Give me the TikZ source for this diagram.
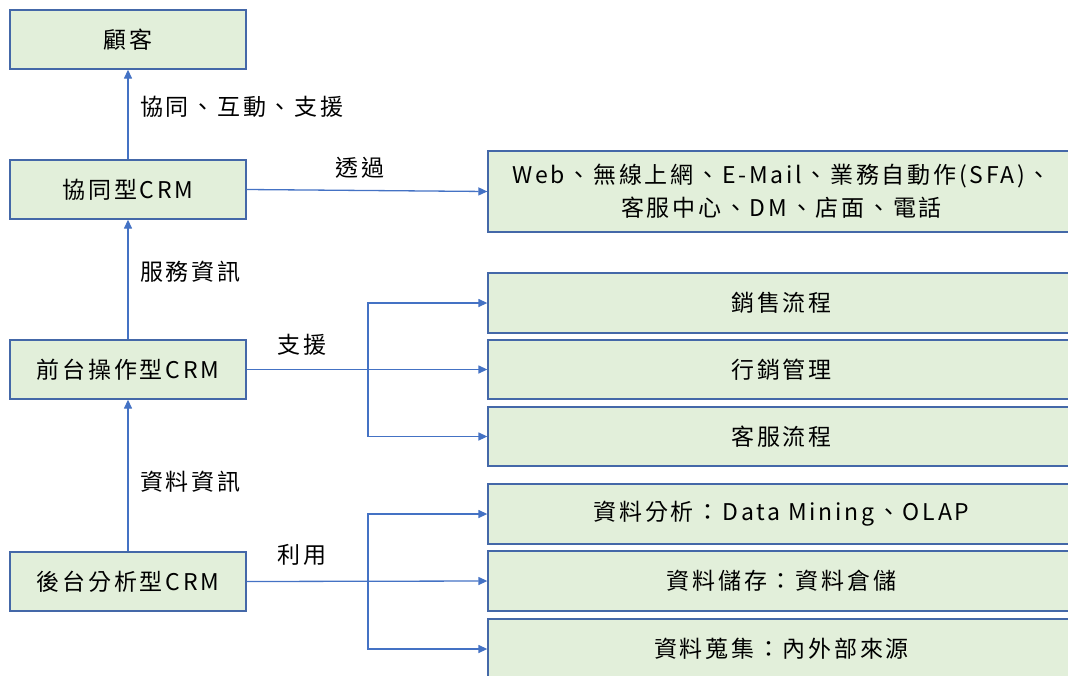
\documentclass[tikz,border=0pt]{standalone}
\usepackage{fontspec}
\setmainfont[LetterSpace=12]{Noto Sans CJK TC}
\usetikzlibrary{arrows.meta}
\definecolor{boxfill}{RGB}{226,239,218}
\definecolor{boxline}{RGB}{68,104,168}
\definecolor{arrline}{RGB}{68,114,196}
\tikzset{
  box/.style={draw=boxline, line width=1.3pt, fill=boxfill, inner sep=0pt, align=center, font=\fontsize{23}{33}\selectfont},
  leftbox/.style={box, minimum width=236pt, minimum height=59pt},
  rightbox/.style={box, minimum width=587pt, minimum height=60pt},
  arr/.style={draw=arrline, line width=1.3pt, -{Triangle[length=9pt,width=8pt]}},
  lbl/.style={inner sep=0pt, font=\fontsize{23}{25}\selectfont}
}
\begin{document}
\begin{tikzpicture}[x=1pt,y=-1pt]
\useasboundingbox (0,0) rectangle (1068,675);
\clip (0,0) rectangle (1068,675);
% left column
\node[leftbox] (gk) at (128,39.5) {顧客};
\node[leftbox] (xt) at (128,189.5) {協同型CRM};
\node[leftbox] (qt) at (128,369.5) {前台操作型CRM};
\node[leftbox] (ht) at (128,581.5) {後台分析型CRM};
% right column
\node[rightbox, minimum height=81pt] (web) at (781.5,191.5) {Web、無線上網、E-Mail、業務自動作(SFA)、\\客服中心、DM、店面、電話};
\node[rightbox] (m1) at (781.5,303) {銷售流程};
\node[rightbox, minimum height=59pt] (m2) at (781.5,369.5) {行銷管理};
\node[rightbox, minimum height=59pt] (m3) at (781.5,436.5) {客服流程};
\node[rightbox] (d1) at (781.5,514) {資料分析：Data Mining、OLAP};
\node[rightbox] (d2) at (781.5,581) {資料儲存：資料倉儲};
\node[rightbox] (d3) at (781.5,649) {資料蒐集：內外部來源};
% vertical arrows
\draw[arr] (xt.north) -- (gk.south);
\draw[arr] (qt.north) -- (xt.south);
\draw[arr] (ht.north) -- (qt.south);
% horizontal arrows
\draw[arr] (xt.east) -- (web.west);
\coordinate (b1) at (368,369.5);
\coordinate (b2) at (368,581.5);
\draw[arr] (qt.east) -- (m2.west);
\draw[arr] (b1) |- (m1.west);
\draw[arr] (b1) |- (m3.west);
\draw[arr] (ht.east) -- (d2.west);
\draw[arr] (b2) |- (d1.west);
\draw[arr] (b2) |- (d3.west);
% labels
\node[lbl, anchor=west] (l1) at (140,107) {協同、互動、支援};
\node[lbl] (l2) at (360,168) {透過};
\node[lbl, anchor=west] (l3) at (140,272) {服務資訊};
\node[lbl] (l4) at (302,345) {支援};
\node[lbl, anchor=west] (l5) at (140,482) {資料資訊};
\node[lbl] (l6) at (302,555) {利用};
\end{tikzpicture}
\end{document}
